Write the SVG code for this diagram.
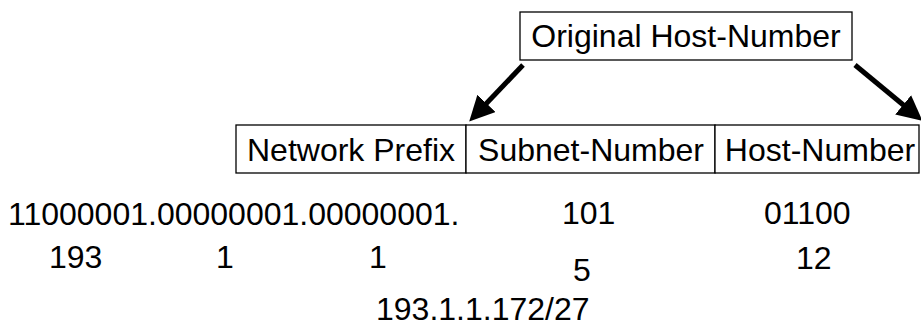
<svg xmlns="http://www.w3.org/2000/svg" width="921" height="335" viewBox="0 0 921 335">
<style>
.box{fill:#fff;stroke:#000;stroke-width:1.3}
.lbl{font-family:"Liberation Sans",Arial,sans-serif;font-size:32px;fill:#000}
.num{font-family:"Liberation Sans",Arial,sans-serif;font-size:32px;fill:#000}
.arr{stroke:#000;stroke-width:5;fill:none}
</style>
<defs>
<marker id="ah" markerWidth="5" markerHeight="5" refX="1" refY="2.5" orient="auto" markerUnits="strokeWidth">
<path d="M0,0 L5,2.5 L0,5 z" fill="#000"/>
</marker>
</defs>
<rect width="921" height="335" fill="#fff"/>
<g id="original">
<rect class="box" x="520" y="12" width="332" height="48"/>
<text class="lbl" x="686" y="47" text-anchor="middle">Original Host-Number</text>
</g>
<g id="network-prefix">
<rect class="box" x="236" y="125" width="230" height="48"/>
<text class="lbl" x="351" y="161" text-anchor="middle">Network Prefix</text>
</g>
<g id="subnet-number">
<rect class="box" x="466" y="125" width="249" height="48"/>
<text class="lbl" x="591" y="161" text-anchor="middle">Subnet-Number</text>
</g>
<g id="host-number">
<rect class="box" x="715" y="125" width="204" height="48"/>
<text class="lbl" x="820" y="161" text-anchor="middle">Host-Number</text>
</g>
<g id="connectors">
<line class="arr" x1="523" y1="65" x2="483" y2="107" marker-end="url(#ah)"/>
<line class="arr" x1="855" y1="65" x2="907" y2="108" marker-end="url(#ah)"/>
</g>
<g id="values">
<text class="num" x="8" y="225">11000001.00000001.00000001.</text>
<text class="num" x="562" y="224">101</text>
<text class="num" x="764" y="224">01100</text>
<text class="num" x="49" y="268">193</text>
<text class="num" x="216" y="268">1</text>
<text class="num" x="369" y="268">1</text>
<text class="num" x="573" y="281">5</text>
<text class="num" x="796" y="269">12</text>
<text class="num" x="376" y="320">193.1.1.172/27</text>
</g>
</svg>
